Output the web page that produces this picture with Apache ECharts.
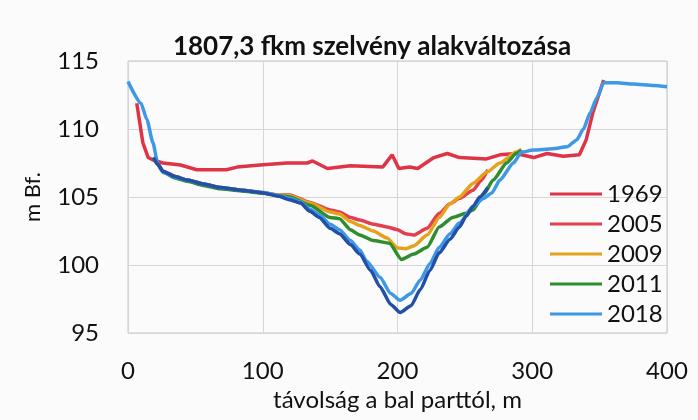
<!DOCTYPE html>
<html>
<head>
<meta charset="utf-8">
<script src="https://cdn.jsdelivr.net/npm/echarts@6/dist/echarts.min.js"></script>
<style>
  html, body { margin: 0; padding: 0; background: #fbfbfc; }
  #chart { width: 698px; height: 420px; }
</style>
</head>
<body>
<div id="chart"></div>
<script>
  // keresztszelveny adatok (tavolsag m, magassag m Bf.)
  var xTicks = [0, 100, 200, 300, 400]
  var yTicks = [95, 100, 105, 110, 115]

  var x1969 = [6.5, 11, 15, 19, 26, 39, 51, 73, 81, 98, 118, 133, 137, 148, 165, 189, 196, 201, 209, 215, 227, 237, 246, 266, 276, 288, 301, 311, 323, 335, 340, 345, 353]
  var y1969 = [111.9, 109.0, 107.9, 107.7, 107.5, 107.35, 107.0, 107.0, 107.2, 107.35, 107.5, 107.5, 107.65, 107.1, 107.3, 107.2, 108.1, 107.1, 107.2, 107.1, 107.9, 108.2, 107.9, 107.8, 108.1, 108.2, 107.9, 108.2, 108.0, 108.1, 109.2, 111.2, 113.6]

  var x2005 = [19, 22, 26, 35, 44, 56, 68, 84, 100, 112, 120, 135, 150, 157, 165, 172, 182, 192, 200, 206, 212, 222, 231, 239, 246, 256, 262, 267]
  var y2005 = [107.9, 107.4, 106.9, 106.5, 106.25, 105.95, 105.7, 105.5, 105.3, 105.15, 105.15, 104.6, 104.05, 103.9, 103.5, 103.3, 103.0, 102.8, 102.6, 102.3, 102.2, 102.7, 103.8, 104.5, 104.9, 105.5, 106.2, 107.0]

  var x2009 = [19, 22, 26, 35, 44, 56, 68, 84, 100, 112, 120, 135, 150, 157, 165, 172, 182, 192, 200, 206, 212, 222, 231, 239, 246, 256, 266, 276, 288, 292]
  var y2009 = [107.9, 107.4, 106.9, 106.5, 106.25, 105.95, 105.7, 105.5, 105.3, 105.15, 105.1, 104.55, 103.9, 103.75, 103.2, 102.9, 102.5, 102.0, 101.25, 101.2, 101.4, 102.2, 103.5, 104.5, 105.0, 106.0, 106.8, 107.5, 108.3, 108.5]

  var x2011 = [19, 22, 26, 35, 44, 56, 68, 84, 100, 112, 120, 135, 150, 157, 165, 172, 182, 194, 203, 212, 222, 231, 241, 251, 256, 264, 271, 281, 288, 292]
  var y2011 = [107.9, 107.4, 106.85, 106.4, 106.15, 105.85, 105.6, 105.45, 105.3, 105.1, 105.0, 104.4, 103.5, 103.4, 102.6, 102.2, 101.8, 101.6, 100.4, 100.8, 101.3, 102.8, 103.5, 103.8, 104.05, 105.2, 106.25, 107.5, 108.2, 108.45]

  var x2018 = [0, 9.6, 14, 18.5, 22, 26, 35, 44, 56, 68, 84, 100, 112, 120, 128, 135, 142, 150, 157, 165, 172, 177, 187, 195, 202, 210, 217, 224, 231, 239, 246, 256, 264, 270, 276, 286, 292, 301, 315, 326, 333, 338, 343, 348, 353, 363, 375, 390, 400]
  var y2018 = [113.5, 111.9, 110.7, 109.0, 107.5, 106.8, 106.45, 106.25, 105.95, 105.7, 105.5, 105.35, 105.1, 104.9, 104.65, 104.1, 103.7, 103.0, 102.6, 101.8, 101.1, 100.3, 99.1, 97.9, 97.4, 97.9, 98.9, 100.1, 101.3, 102.3, 103.1, 104.3, 104.9, 105.3, 106.25, 107.5, 108.3, 108.45, 108.55, 108.7, 109.2, 110.0, 111.2, 112.3, 113.4, 113.4, 113.3, 113.2, 113.1]

  // sotetkek vonal (nincs a jelmagyarazatban)
  var xDark = [19, 22, 26, 35, 44, 56, 68, 84, 100, 112, 120, 128, 135, 142, 150, 157, 165, 172, 180, 187, 195, 202, 210, 217, 224, 231, 239, 246, 251, 256, 261, 267]
  var yDark = [107.9, 107.4, 106.9, 106.5, 106.25, 105.95, 105.7, 105.5, 105.3, 105.05, 104.8, 104.55, 103.95, 103.5, 102.7, 102.3, 101.5, 100.8, 99.6, 98.4, 97.1, 96.5, 97.0, 98.2, 99.6, 100.9, 101.9, 102.8, 103.6, 104.3, 105.0, 105.7]

  var legendNames = ['1969', '2005', '2009', '2011', '2018']

  function pairs(xs, ys) {
    return xs.map(function (x, i) { return [x, ys[i]] })
  }

  var font = 'Lato, "Open Sans", sans-serif'

  function line(name, xs, ys, color, smooth) {
    return {
      name: name,
      type: 'line',
      data: pairs(xs, ys),
      symbol: 'none',
      smooth: smooth,
      smoothMonotone: 'x',
      lineStyle: {width: 3.5, color: color},
      itemStyle: {color: color},
      emphasis: {disabled: true}
    }
  }

  var chart = echarts.init(document.getElementById('chart'))
  chart.setOption({
    backgroundColor: '#fbfbfc',
    animation: false,
    textStyle: {fontFamily: font},
    graphic: [{
      type: 'text',
      x: 372,
      y: 47,
      style: {
        text: '1807,3 fkm szelvény alakváltozása',
        font: 'bold 26px ' + font,
        fill: '#111',
        align: 'center',
        verticalAlign: 'middle'
      }
    }],
    grid: {
      left: 128,
      right: 31,
      top: 61,
      bottom: 87,
      show: true,
      borderColor: '#c4c4c8',
      borderWidth: 1,
      backgroundColor: 'transparent'
    },
    legend: {
      data: legendNames,
      orient: 'vertical',
      left: 545,
      top: 177,
      icon: 'rect',
      itemWidth: 52,
      itemHeight: 3,
      itemGap: 6,
      textStyle: {fontSize: 24, color: '#111', fontFamily: font, lineHeight: 24}
    },
    xAxis: {
      type: 'value',
      min: xTicks[0],
      max: xTicks[xTicks.length - 1],
      interval: 100,
      name: 'távolság a bal parttól, m',
      nameLocation: 'middle',
      nameGap: 55,
      nameTextStyle: {fontSize: 24, color: '#111', fontFamily: font},
      axisLine: {show: false},
      axisTick: {show: false},
      axisLabel: {fontSize: 24, color: '#111', margin: 26, fontFamily: font},
      splitLine: {show: true, lineStyle: {color: '#d6d6da', width: 1}}
    },
    yAxis: {
      type: 'value',
      min: yTicks[0],
      max: yTicks[yTicks.length - 1],
      interval: 5,
      name: 'm Bf.',
      nameLocation: 'middle',
      nameGap: 84,
      nameTextStyle: {fontSize: 22, color: '#111', fontFamily: font},
      axisLine: {show: false},
      axisTick: {show: false},
      axisLabel: {fontSize: 24, color: '#111', margin: 29, fontFamily: font},
      splitLine: {show: true, lineStyle: {color: '#d6d6da', width: 1}}
    },
    series: [
      line('1969', x1969, y1969, '#de3445', false),
      line('2005', x2005, y2005, '#e2404e', 0.2),
      line('2009', x2009, y2009, '#e5a21c', 0.2),
      line('2011', x2011, y2011, '#2e8d2c', 0.2),
      line('2018', x2018, y2018, '#3d98e6', 0.2),
      line('2018_b', xDark, yDark, '#2350a6', 0.2)
    ]
  })
</script>
</body>
</html>
